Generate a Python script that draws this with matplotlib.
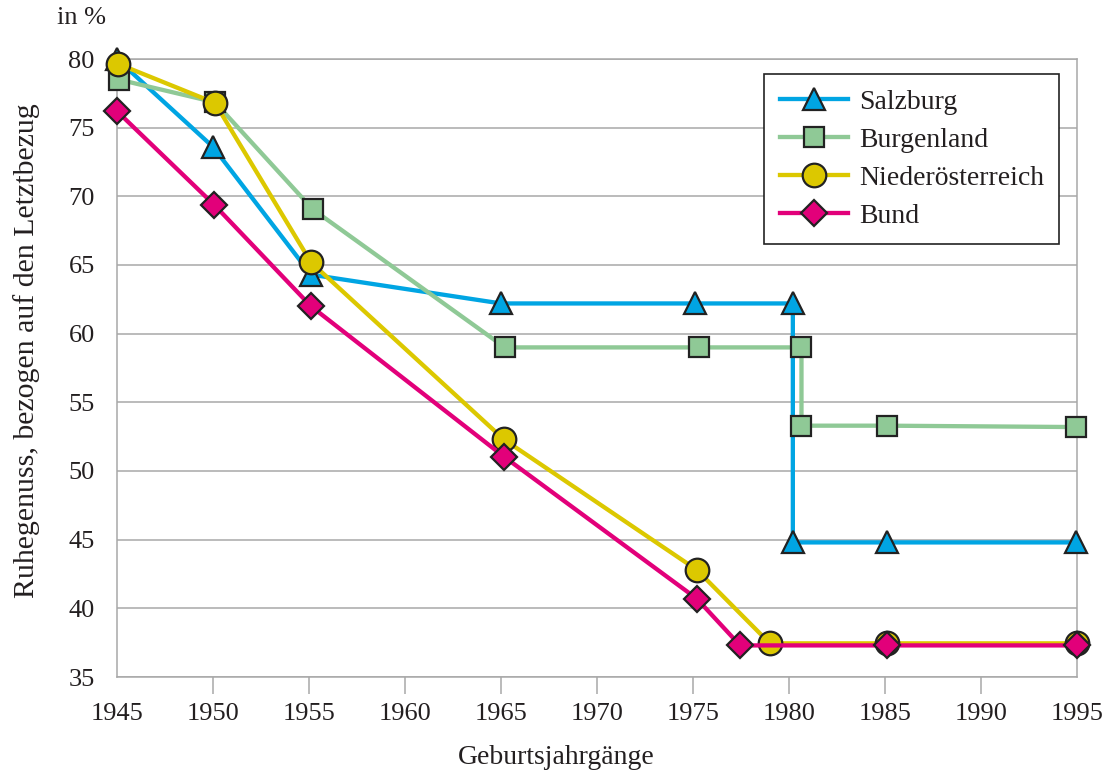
import matplotlib
matplotlib.use("Agg")
import matplotlib.pyplot as plt

plt.rcParams['font.family'] = ['Liberation Serif', 'DejaVu Serif']

# Data
years_ticks = [1945, 1950, 1955, 1960, 1965, 1970, 1975, 1980, 1985, 1990, 1995]
y_ticks = [35, 40, 45, 50, 55, 60, 65, 70, 75, 80]

salzburg_x = [1945.0, 1950.0, 1955.1, 1965.0, 1975.1, 1980.2, 1980.2, 1985.1, 1994.95]
salzburg_y = [80.0, 73.6, 64.3, 62.2, 62.2, 62.2, 44.8, 44.8, 44.8]

burgenland_x = [1945.1, 1950.1, 1955.2, 1965.2, 1975.3, 1980.65, 1980.65, 1985.1, 1994.95]
burgenland_y = [78.5, 76.85, 69.05, 59.0, 59.0, 59.0, 53.3, 53.3, 53.2]

noe_x = [1945.05, 1950.1, 1955.1, 1965.15, 1975.2, 1979.0, 1985.1, 1995.0]
noe_y = [79.65, 76.8, 65.2, 52.3, 42.8, 37.45, 37.45, 37.45]

bund_x = [1945.0, 1950.05, 1955.1, 1965.15, 1975.2, 1977.45, 1985.1, 1995.0]
bund_y = [76.2, 69.4, 62.0, 51.05, 40.7, 37.3, 37.3, 37.3]

series = [
    ("Salzburg", salzburg_x, salzburg_y, "#00A5E3", "^", 16),
    ("Burgenland", burgenland_x, burgenland_y, "#8FC996", "s", 15),
    ("Niederösterreich", noe_x, noe_y, "#DCC800", "o", 17),
    ("Bund", bund_x, bund_y, "#E2007A", "D", 13),
]

fig = plt.figure(figsize=(11.15, 7.75), dpi=100)
ax = fig.add_axes([117/1115, 1 - 677/775, (1077 - 117)/1115, (677 - 59)/775])

text_color = "#231F20"
grid_color = "#A8A8A8"

for name, xs, ys, col, mk, ms in series:
    ax.plot(xs, ys, color=col, lw=3.1, marker=mk, ms=ms, mfc=col,
            mec="#222222", mew=1.6, label=name, clip_on=False, zorder=3)

ax.set_xlim(1945, 1995)
ax.set_ylim(35, 80)
ax.set_xticks(years_ticks)
ax.set_xticklabels([str(y) for y in years_ticks])
ax.set_yticks(y_ticks)
ax.set_yticklabels([str(y) for y in y_ticks])

ax.yaxis.grid(True, color=grid_color, lw=1.1)
ax.set_axisbelow(True)
for s in ax.spines.values():
    s.set_color(grid_color)
    s.set_linewidth(1.1)

ax.tick_params(axis='x', length=12, width=1.1, color=grid_color, pad=7,
               labelsize=19, labelcolor=text_color)
ax.tick_params(axis='y', length=0, pad=16, labelsize=19, labelcolor=text_color)
xt = ax.xaxis.get_major_ticks()
xt[0].tick1line.set_visible(False)
xt[-1].tick1line.set_visible(False)

fig.text(556/1115, 1 - 757/775, "Geburtsjahrgänge", fontsize=20,
         color=text_color, ha='center', va='center')
fig.text(27/1115, 1 - 351/775, "Ruhegenuss, bezogen auf den Letztbezug",
         fontsize=21.5, color=text_color, ha='center', va='center', rotation=90)
fig.text(57/1115, 1 - 18/775, "in %", fontsize=19, color=text_color,
         ha='left', va='center')

leg = ax.legend(loc='upper right', bbox_to_anchor=(1059/1115, 1 - 74/775),
                bbox_transform=fig.transFigure, fontsize=20, frameon=True,
                fancybox=False, edgecolor="#222222", framealpha=1,
                handlelength=2.45, handletextpad=0.4, borderpad=0.55,
                labelspacing=0.45, borderaxespad=0)
leg.get_frame().set_linewidth(1.2)
for t in leg.get_texts():
    t.set_color(text_color)

fig.savefig("out.png", dpi=100)
